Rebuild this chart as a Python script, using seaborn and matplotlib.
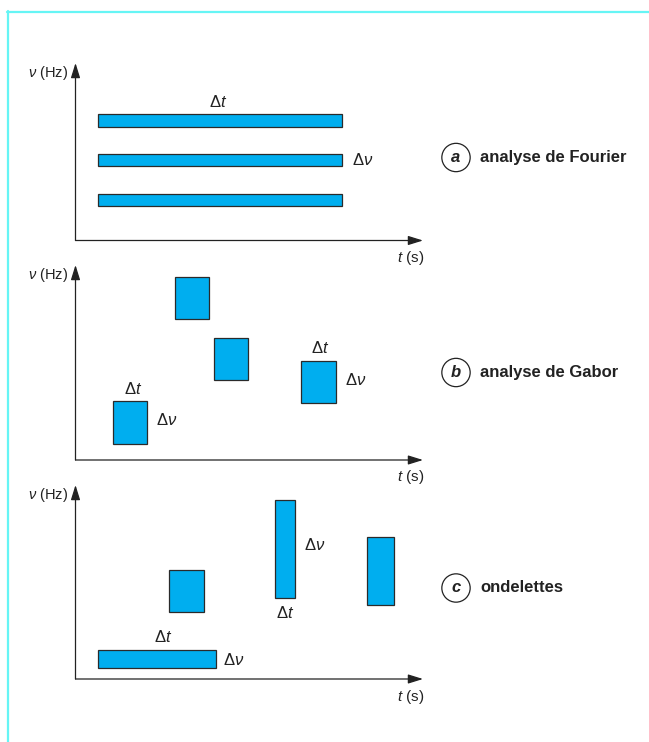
import matplotlib
matplotlib.use("Agg")
import matplotlib.pyplot as plt
import seaborn as sns
from matplotlib.lines import Line2D

# ---- time-frequency tiles (t in s-units, nu in Hz-units) ----
fourier_t0 = [22.5, 22.5, 22.5]
fourier_dt = [244.0, 244.0, 244.0]
fourier_f0 = [113.8, 74.2, 34.5]
fourier_df = [12.4, 12.4, 12.4]

gabor_t0 = [99.2, 138.5, 225.8, 37.5]
gabor_dt = [34.5, 34.5, 34.5, 34.5]
gabor_f0 = [141.0, 80.0, 57.0, 16.3]
gabor_df = [42.0, 42.0, 42.0, 42.5]

wavelet_t0 = [22.2, 93.0, 199.5, 291.5]
wavelet_dt = [118.3, 35.5, 20.0, 27.0]
wavelet_f0 = [11.3, 66.7, 80.7, 73.7]
wavelet_df = [17.7, 42.6, 98.6, 68.3]

panel_letters = ["a", "b", "c"]
panel_titles = ["analyse de Fourier", "analyse de Gabor", "ondelettes"]
y_label = "(Hz)"
x_label = "(s)"

W, H, DPI = 649, 742, 100
FILL = "#00AEEF"
EDGE = "#2a2a2a"
INK = "#222222"
FRAME = "#66F5F5"

sns.set_theme(style="white")
plt.rcParams["font.family"] = ["Liberation Sans", "DejaVu Sans"]
plt.rcParams["mathtext.fontset"] = "custom"
plt.rcParams["mathtext.rm"] = "Liberation Sans"
plt.rcParams["mathtext.it"] = "Liberation Sans:italic"
plt.rcParams["mathtext.bf"] = "Liberation Sans:bold"

fig = plt.figure(figsize=(W / DPI, H / DPI), dpi=DPI, facecolor="white")

PX = 72.0 / DPI  # one pixel in points

# axes boxes in pixels: (top, bottom)
AX_L, AX_R = 75.5, 423.0
boxes = [(63.0, 240.5), (265.0, 460.0), (485.0, 679.0)]

NU_FS = 10.5
T_FS = 11
DELTA_FS = 12
TITLE_FS = 12


def make_axes(top, bottom):
    ax = fig.add_axes([AX_L / W, 1 - bottom / H, (AX_R - AX_L) / W, (bottom - top) / H])
    ax.set_xlim(0, AX_R - AX_L)
    ax.set_ylim(0, bottom - top)
    ax.set_axis_off()
    ax.patch.set_alpha(0)
    arrow = dict(arrowstyle="-|>,head_length=0.9,head_width=0.28", lw=0.9,
                 color=INK, shrinkA=0, shrinkB=0, mutation_scale=10)
    ax.annotate("", xy=(1, 0), xytext=(0, 0), xycoords="axes fraction", arrowprops=arrow)
    ax.annotate("", xy=(0, 1), xytext=(0, 0), xycoords="axes fraction", arrowprops=arrow)
    ax.annotate(r"$\nu$ " + y_label, xy=(0, 1), xycoords="axes fraction",
                xytext=(-7 * PX, -10 * PX), textcoords="offset points",
                ha="right", va="center", fontsize=NU_FS, color=INK)
    ax.annotate(r"$t$ " + x_label, xy=(1, 0), xycoords="axes fraction",
                xytext=(1 * PX, -17.5 * PX), textcoords="offset points",
                ha="right", va="center", fontsize=T_FS, color=INK)
    return ax


def tiles(ax, t0, dt, f0, df):
    ax.bar(t0, df, width=dt, bottom=f0, align="edge", color=FILL,
           edgecolor=EDGE, linewidth=0.9)


def dt_label(ax, t0, dt, f0, df, dx=0.0, dy=11.0, below=False):
    if below:
        xy, off = (t0 + dt / 2, f0), (dx * PX, -dy * PX)
    else:
        xy, off = (t0 + dt / 2, f0 + df), (dx * PX, dy * PX)
    ax.annotate(r"$\Delta t$", xy=xy, xytext=off, textcoords="offset points",
                ha="center", va="center", fontsize=DELTA_FS, color=INK)


def dnu_label(ax, t0, dt, f0, df, dx=9.0, dy=0.0):
    ax.annotate(r"$\Delta \nu$", xy=(t0 + dt, f0 + df / 2), xytext=(dx * PX, dy * PX),
                textcoords="offset points", ha="left", va="center",
                fontsize=DELTA_FS, color=INK)


axes = [make_axes(t, b) for t, b in boxes]

# (a) Fourier
ax = axes[0]
tiles(ax, fourier_t0, fourier_dt, fourier_f0, fourier_df)
dt_label(ax, fourier_t0[0], fourier_dt[0], fourier_f0[0], fourier_df[0], dx=-1.5, dy=12)
dnu_label(ax, fourier_t0[1], fourier_dt[1], fourier_f0[1], fourier_df[1], dx=10)

# (b) Gabor
ax = axes[1]
tiles(ax, gabor_t0, gabor_dt, gabor_f0, gabor_df)
dt_label(ax, gabor_t0[3], gabor_dt[3], gabor_f0[3], gabor_df[3], dx=2.5, dy=12)
dnu_label(ax, gabor_t0[3], gabor_dt[3], gabor_f0[3], gabor_df[3], dx=8, dy=2)
dt_label(ax, gabor_t0[2], gabor_dt[2], gabor_f0[2], gabor_df[2], dx=1.5, dy=13)
dnu_label(ax, gabor_t0[2], gabor_dt[2], gabor_f0[2], gabor_df[2], dx=9, dy=2)

# (c) wavelets
ax = axes[2]
tiles(ax, wavelet_t0, wavelet_dt, wavelet_f0, wavelet_df)
dt_label(ax, wavelet_t0[0], wavelet_dt[0], wavelet_f0[0], wavelet_df[0], dx=6, dy=13.5)
dnu_label(ax, wavelet_t0[0], wavelet_dt[0], wavelet_f0[0], wavelet_df[0], dx=7.5, dy=-1)
dnu_label(ax, wavelet_t0[2], wavelet_dt[2], wavelet_f0[2], wavelet_df[2], dx=9, dy=4)
dt_label(ax, wavelet_t0[2], wavelet_dt[2], wavelet_f0[2], wavelet_df[2], dx=0, dy=14.5, below=True)

# panel captions: circled letter + title
caption_y = [157.5, 372.5, 588]
for letter, title, cy in zip(panel_letters, panel_titles, caption_y):
    fig.text(456 / W, 1 - cy / H, letter, ha="center", va="center", fontsize=TITLE_FS,
             fontweight="bold", fontstyle="italic", color=INK,
             bbox=dict(boxstyle="circle,pad=0.4", fc="white", ec=INK, lw=0.9))
    fig.text(480 / W, 1 - cy / H, title, ha="left", va="center", fontsize=TITLE_FS,
             fontweight="bold", color=INK)

# page frame
fig.add_artist(Line2D([7.5 / W, 7.5 / W], [0, 1 - 11 / H], transform=fig.transFigure,
                      color=FRAME, lw=1.6))
fig.add_artist(Line2D([6.7 / W, 1], [1 - 11.5 / H, 1 - 11.5 / H], transform=fig.transFigure,
                      color=FRAME, lw=1.6))

fig.savefig("out.png", dpi=DPI, facecolor="white")
